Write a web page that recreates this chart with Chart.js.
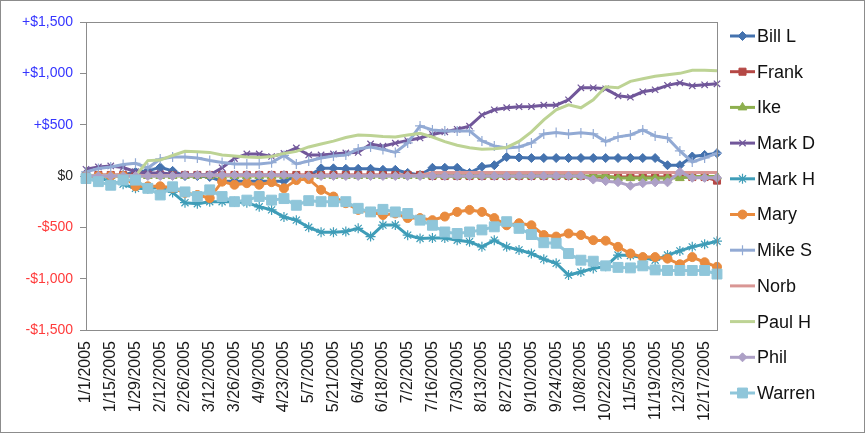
<!DOCTYPE html>
<html>
<head>
<meta charset="utf-8">
<script src="https://cdn.jsdelivr.net/npm/chart.js@4.4.1/dist/chart.umd.min.js"></script>
<style>
  html, body { margin: 0; padding: 0; background: #fff; }
  #wrap { width: 865px; height: 433px; position: relative; }
</style>
</head>
<body>
<div id="wrap"><canvas id="chart" width="865" height="433"></canvas></div>
<script>
// weekly dates, every other one is labelled
const weeks = ['1/1/2005','1/8/2005','1/15/2005','1/22/2005','1/29/2005','2/5/2005','2/12/2005','2/19/2005',
  '2/26/2005','3/5/2005','3/12/2005','3/19/2005','3/26/2005','4/2/2005','4/9/2005','4/16/2005','4/23/2005',
  '4/30/2005','5/7/2005','5/14/2005','5/21/2005','5/28/2005','6/4/2005','6/11/2005','6/18/2005','6/25/2005',
  '7/2/2005','7/9/2005','7/16/2005','7/23/2005','7/30/2005','8/6/2005','8/13/2005','8/20/2005','8/27/2005',
  '9/3/2005','9/10/2005','9/17/2005','9/24/2005','10/1/2005','10/8/2005','10/15/2005','10/22/2005',
  '10/29/2005','11/5/2005','11/12/2005','11/19/2005','11/26/2005','12/3/2005','12/10/2005','12/17/2005','12/24/2005'];

const yTicks = [-1500, -1000, -500, 0, 500, 1000, 1500];

const billL = [0,0,0,10,40,50,85,50,0,0,-10,-50,-50,-50,-50,-50,-50,0,0,75,75,70,70,70,60,60,30,10,80,80,80,30,90,105,185,180,
  175,175,175,175,175,175,175,175,175,175,175,105,105,190,205,222];
const frank = [0,10,10,10,10,10,10,10,10,10,10,10,10,10,10,10,10,10,10,10,10,10,10,10,10,10,10,10,0,0,0,0,0,0,0,0,
  0,0,0,0,0,-10,-10,-10,-10,-10,-10,-10,-10,-10,-10,-45];
const ike = [0,0,0,0,0,0,0,0,0,0,0,0,0,0,0,0,0,0,0,0,0,0,0,0,0,0,0,0,0,0,0,0,0,0,0,0,
  0,0,0,0,0,0,0,-20,-20,-20,-20,-20,-20,-5,-5,-5];
const markD = [65,88,98,83,42,30,30,20,10,10,10,80,170,215,215,190,220,273,205,205,215,225,230,312,290,320,345,370,405,430,455,485,
  595,645,665,675,676,690,690,742,859,859,849,781,768,820,840,883,908,878,888,898];
const markH = [0,-20,-50,-80,-120,-125,-110,-160,-260,-270,-250,-250,-250,-260,-300,-330,-400,-430,-500,-547,-547,-540,-510,-590,
  -478,-478,-576,-608,-605,-605,-625,-640,-690,-625,-690,-720,-755,-810,-850,-965,-935,-900,-880,-770,-775,-795,-820,-770,-730,-690,-665,-635];
const mary = [0,0,0,0,-100,-100,-100,-115,-165,-185,-215,-55,-85,-70,-85,-60,-120,-40,-30,-135,-200,-265,-330,-350,-380,-365,
  -410,-410,-430,-395,-350,-330,-350,-410,-480,-460,-480,-575,-590,-560,-575,-625,-630,-690,-755,-790,-790,-805,-860,-790,-840,-885];
const mikeS = [40,73,88,112,124,78,166,185,185,176,151,132,117,117,117,130,200,117,146,176,195,205,264,283,259,229,322,488,449,439,
  439,439,342,293,273,283,322,410,423,410,420,410,335,381,400,449,390,371,244,137,176,220];
const norb = [5,5,5,5,5,5,5,5,5,5,5,5,5,5,5,5,5,5,5,5,5,5,5,5,5,5,5,5,35,35,35,35,35,35,35,35,
  35,35,35,35,35,35,35,35,35,35,35,35,35,35,35,35];
const paulH = [0,0,0,0,0,150,155,200,240,235,230,205,195,185,180,190,220,240,283,312,340,375,400,395,385,380,400,415,380,335,
  300,275,260,265,278,337,430,547,644,693,664,742,869,859,922,947,971,986,1000,1030,1030,1025];
const phil = [0,0,0,0,0,0,0,0,10,10,10,10,10,10,10,10,10,0,0,0,0,0,0,0,0,0,0,0,0,0,0,0,0,0,0,0,
  0,0,0,0,0,-35,-50,-60,-95,-70,-62,-62,40,-18,-18,-18];
const warren = [-25,-55,-90,-40,-40,-120,-185,-105,-155,-200,-135,-200,-250,-235,-200,-235,-220,-285,-240,-250,-250,-250,-315,-350,
  -325,-350,-365,-430,-480,-545,-560,-545,-525,-495,-445,-510,-570,-650,-655,-755,-820,-830,-875,-890,-895,-875,-915,-920,-920,-920,-920,-955];

const names = ['Bill L','Frank','Ike','Mark D','Mark H','Mary','Mike S','Norb','Paul H','Phil','Warren'];
const series = [billL, frank, ike, markD, markH, mary, mikeS, norb, paulH, phil, warren];

// look of each series
const colors = ['#4472AE','#B54845','#8DAF4E','#71579A','#3F9DB8','#E98B3E','#92AAD4','#D99694','#BDD394','#ADA0C6','#8FC6DA'];
const markers = ['rectRot','rect','triangle','crossRot','star','circle','cross',false,false,'rectRot','rect'];
const markerSize = [4.5,5,5,4.5,5,4.5,5,0,0,4.5,7];

function money(v) {
  const s = '$' + Math.abs(v).toLocaleString('en-US');
  if (v > 0) return '+' + s;
  if (v < 0) return '-' + s;
  return s;
}

const datasets = names.map((name, i) => ({
  label: name,
  data: series[i],
  borderColor: colors[i],
  backgroundColor: colors[i],
  borderWidth: 3,
  tension: 0,
  pointStyle: markers[i],
  pointRadius: markerSize[i],
  pointHoverRadius: markerSize[i],
  pointBackgroundColor: colors[i],
  pointBorderColor: colors[i],
  pointBorderWidth: (markers[i] === 'cross' || markers[i] === 'crossRot' || markers[i] === 'star') ? 1.2 : 1,
  order: names.length - i
}));

const sideLegend = {
  id: 'sideLegend',
  afterDraw(chart) {
    const ctx = chart.ctx;
    const a = chart.chartArea;
    ctx.save();
    ctx.strokeStyle = '#8c8c8c';
    ctx.lineWidth = 1;
    ctx.strokeRect(Math.round(a.left) + 0.5, Math.round(a.top) + 0.5, Math.round(a.right - a.left), Math.round(a.bottom - a.top));
    ctx.strokeRect(0.5, 0.5, chart.width - 1, chart.height - 1);
    chart.data.datasets.forEach((ds, i) => {
      const y = 36 + i * 35.7;
      ctx.strokeStyle = ds.borderColor;
      ctx.lineWidth = 3;
      ctx.beginPath();
      ctx.moveTo(730, y);
      ctx.lineTo(755, y);
      ctx.stroke();
      if (ds.pointStyle && ds.pointRadius > 0) {
        ctx.fillStyle = ds.pointBackgroundColor;
        ctx.strokeStyle = ds.pointBorderColor;
        ctx.lineWidth = ds.pointBorderWidth;
        Chart.helpers.drawPoint(ctx, {pointStyle: ds.pointStyle, radius: ds.pointRadius, borderWidth: ds.pointBorderWidth, rotation: 0}, 742.5, y);
      }
      ctx.fillStyle = '#111';
      ctx.font = '18px "Liberation Sans", Arial, sans-serif';
      ctx.textAlign = 'left';
      ctx.textBaseline = 'middle';
      ctx.fillText(ds.label, 757, y + 1);
    });
    ctx.restore();
  }
};

new Chart(document.getElementById('chart'), {
  type: 'line',
  data: { labels: weeks, datasets: datasets },
  options: {
    responsive: false,
    animation: false,
    devicePixelRatio: 1,
    layout: { padding: { left: 0, right: 148, top: 22, bottom: 0 } },
    plugins: { legend: { display: false }, tooltip: { enabled: false } },
    scales: {
      x: {
        offset: false,
        grid: { display: false, drawTicks: false },
        border: { display: true, color: '#8c8c8c', width: 1 },
        ticks: {
          autoSkip: false,
          minRotation: 90,
          maxRotation: 90,
          padding: 11,
          color: '#1a1a1a',
          font: { family: '"Liberation Sans", Arial, sans-serif', size: 16 },
          callback: function (v, i) { return i % 2 === 0 ? weeks[i] : ''; }
        },
        afterFit: function (s) { s.height = 103; }
      },
      y: {
        min: yTicks[0],
        max: yTicks[yTicks.length - 1],
        afterBuildTicks: function (s) { s.ticks = yTicks.map(v => ({ value: v })); },
        grid: { display: true, drawOnChartArea: false, drawTicks: true, tickLength: 6, color: '#8c8c8c' },
        border: { display: true, color: '#8c8c8c', width: 1 },
        ticks: {
          padding: 7,
          font: { family: '"Liberation Sans", Arial, sans-serif', size: 14 },
          color: function (c) { const v = c.tick.value; return v > 0 ? '#3535ff' : (v < 0 ? '#ff3b3b' : '#262626'); },
          callback: function (v) { return money(v); }
        },
        afterFit: function (s) { s.width = 86; }
      }
    }
  },
  plugins: [sideLegend]
});
</script>
</body>
</html>
